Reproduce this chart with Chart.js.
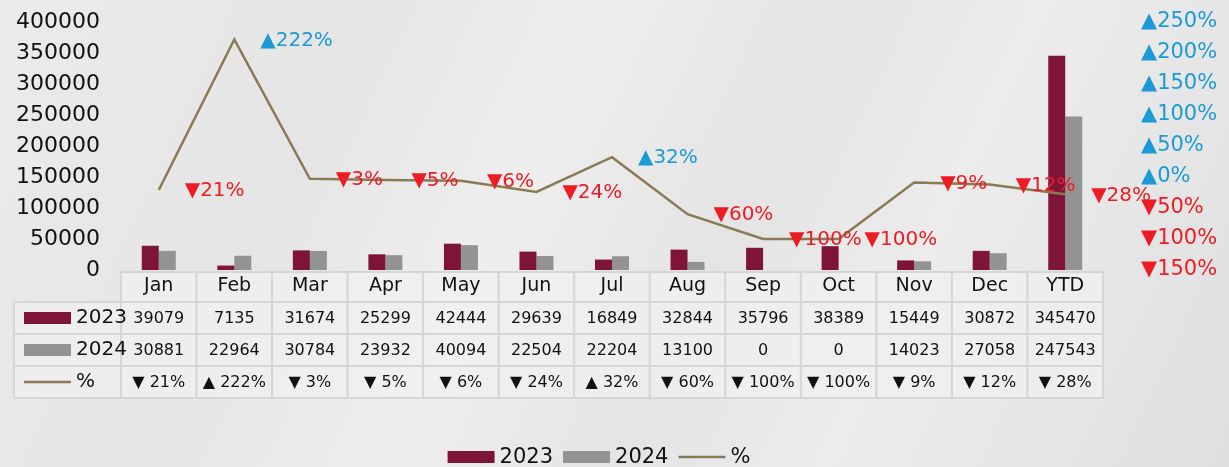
<!DOCTYPE html>
<html>
<head>
<meta charset="utf-8">
<title>Monthly volume 2023 vs 2024</title>
<script src="https://cdn.jsdelivr.net/npm/chart.js@4.4.0/dist/chart.umd.min.js"></script>
<style>
  html, body { margin: 0; padding: 0; }
  body {
    width: 1229px; height: 467px; overflow: hidden;
    background: linear-gradient(115deg, #ebebeb 0%, #e5e5e5 25%, #eeeeee 42%, #e4e4e4 58%, #ececec 72%, #dfdfdf 100%);
  }
  #wrap { position: relative; width: 1229px; height: 467px; }
</style>
</head>
<body>
<div id="wrap"><canvas id="chart"></canvas></div>
<script>
const categories = ['Jan', 'Feb', 'Mar', 'Apr', 'May', 'Jun', 'Jul', 'Aug', 'Sep', 'Oct', 'Nov', 'Dec', 'YTD'];
const sales2023 = [39079, 7135, 31674, 25299, 42444, 29639, 16849, 32844, 35796, 38389, 15449, 30872, 345470];
const sales2024 = [30881, 22964, 30784, 23932, 40094, 22504, 22204, 13100, 0, 0, 14023, 27058, 247543];
const pctChange = [-21, 222, -3, -5, -6, -24, 32, -60, -100, -100, -9, -12, -28];

const MAROON = '#7e1538';
const GREY = '#939393';
const OLIVE = '#8a7a55';
const BLUE = '#1b9ad6';
const RED = '#ec1c24';
const FONT = '"DejaVu Sans", sans-serif';
const CELL_FILL = 'rgba(240,240,240,0.75)';
const CELL_LINE = '#d6d6d6';
const ROW_TOPS = [272, 302, 334, 366, 398];
const TABLE_LEFT = 14;

// ▲ / ▼ prefix instead of a minus sign
function arrowPct(v, gap) {
  return (v >= 0 ? '▲' : '▼') + (gap ? ' ' : '') + Math.abs(v) + '%';
}

const tableRows = [
  { label: '2023', values: sales2023.map(String), swatch: 'rect', color: MAROON },
  { label: '2024', values: sales2024.map(String), swatch: 'rect', color: GREY },
  { label: '%', values: pctChange.map(v => arrowPct(v, true)), swatch: 'line', color: OLIVE }
];

function cell(ctx, x, y, w, h) {
  ctx.fillStyle = CELL_FILL;
  ctx.fillRect(x, y, w, h);
  ctx.strokeRect(x, y, w, h);
}

function swatch(ctx, kind, color, x, y) {
  if (kind === 'rect') {
    ctx.fillStyle = color;
    ctx.fillRect(x, y - 6, 47, 12);
  } else {
    ctx.strokeStyle = color;
    ctx.lineWidth = 2.5;
    ctx.beginPath();
    ctx.moveTo(x, y);
    ctx.lineTo(x + 47, y);
    ctx.stroke();
  }
}

// data table under the axis, value labels next to the line, legend
const extras = {
  id: 'extras',
  beforeDraw(chart) {
    // cell backgrounds go under the category tick labels
    const ctx = chart.ctx;
    const x = chart.scales.x;
    const area = chart.chartArea;
    const colW = (area.right - area.left) / categories.length;
    ctx.save();
    ctx.strokeStyle = CELL_LINE;
    ctx.lineWidth = 2;
    categories.forEach((c, i) => {
      const cx = x.getPixelForValue(i);
      cell(ctx, cx - colW / 2, ROW_TOPS[0], colW, ROW_TOPS[1] - ROW_TOPS[0]);
    });
    tableRows.forEach((row, r) => {
      const top = ROW_TOPS[r + 1];
      const h = ROW_TOPS[r + 2] - top;
      cell(ctx, TABLE_LEFT, top, area.left - TABLE_LEFT, h);
      categories.forEach((c, i) => {
        const cx = x.getPixelForValue(i);
        cell(ctx, cx - colW / 2, top, colW, h);
      });
    });
    ctx.restore();
  },
  afterDatasetsDraw(chart) {
    const ctx = chart.ctx;
    const meta = chart.getDatasetMeta(2);
    ctx.save();
    ctx.font = '20px ' + FONT;
    ctx.textAlign = 'left';
    ctx.textBaseline = 'middle';
    meta.data.forEach((pt, i) => {
      const v = pctChange[i];
      ctx.fillStyle = v >= 0 ? BLUE : RED;
      ctx.fillText(arrowPct(v), pt.x + 26, pt.y + 1);
    });
    ctx.restore();
  },
  afterDraw(chart) {
    const ctx = chart.ctx;
    const x = chart.scales.x;
    ctx.save();
    ctx.textBaseline = 'middle';

    tableRows.forEach((row, r) => {
      const top = ROW_TOPS[r + 1];
      const mid = top + (ROW_TOPS[r + 2] - top) / 2;
      swatch(ctx, row.swatch, row.color, 24, mid);
      ctx.fillStyle = '#111';
      ctx.textAlign = 'left';
      ctx.font = '20px ' + FONT;
      ctx.fillText(row.label, 76, mid);
      ctx.font = '16px ' + FONT;
      ctx.textAlign = 'center';
      row.values.forEach((t, i) => {
        ctx.fillText(t, x.getPixelForValue(i), mid + 1);
      });
    });

    const items = [
      { text: '2023', color: MAROON, kind: 'rect' },
      { text: '2024', color: GREY, kind: 'rect' },
      { text: '%', color: OLIVE, kind: 'line' }
    ];
    ctx.font = '21px ' + FONT;
    const widths = items.map(it => 47 + 5 + ctx.measureText(it.text).width);
    const total = widths.reduce((a, b) => a + b, 0) + 10 * (items.length - 1);
    let lx = 599 - total / 2;
    const ly = 457;
    items.forEach((it, k) => {
      swatch(ctx, it.kind, it.color, lx, ly);
      ctx.fillStyle = '#111';
      ctx.textAlign = 'left';
      ctx.fillText(it.text, lx + 52, ly + 1);
      lx += widths[k] + 10;
    });
    ctx.restore();
  }
};

new Chart(document.getElementById('chart'), {
  type: 'bar',
  data: {
    labels: categories,
    datasets: [
      {
        label: '2023',
        data: sales2023,
        backgroundColor: MAROON,
        yAxisID: 'y',
        order: 2
      },
      {
        label: '2024',
        data: sales2024,
        backgroundColor: GREY,
        yAxisID: 'y',
        order: 2
      },
      {
        type: 'line',
        label: '%',
        data: pctChange,
        borderColor: OLIVE,
        borderWidth: 2.5,
        pointRadius: 0,
        tension: 0,
        yAxisID: 'pct',
        order: 1
      }
    ]
  },
  options: {
    responsive: true,
    maintainAspectRatio: false,
    animation: false,
    categoryPercentage: 0.45,
    barPercentage: 1,
    layout: { padding: { top: 22, left: 0, right: 0, bottom: 0 } },
    plugins: {
      legend: { display: false },
      tooltip: { enabled: false }
    },
    scales: {
      x: {
        grid: { display: false, drawTicks: false },
        border: { display: false },
        ticks: {
          color: '#111',
          font: { family: FONT, size: 19 },
          padding: 5
        },
        afterFit(scale) { scale.height = 197; }
      },
      y: {
        position: 'left',
        min: 0,
        max: 400000,
        // hidden tick marks only push the labels away from the plot
        grid: { display: false, drawTicks: true, tickLength: 16 },
        border: { display: false },
        ticks: {
          stepSize: 50000,
          autoSkip: false,
          color: '#111',
          font: { family: FONT, size: 22 },
          padding: 5,
          callback: v => String(v)
        },
        afterFit(scale) { scale.width = 121; }
      },
      pct: {
        position: 'right',
        min: -150,
        max: 250,
        grid: { display: false, drawTicks: true, tickLength: 33 },
        border: { display: false },
        ticks: {
          stepSize: 50,
          autoSkip: false,
          padding: 5,
          font: { family: FONT, size: 21 },
          color: c => (c.tick && c.tick.value < 0 ? RED : BLUE),
          callback: v => arrowPct(v)
        },
        afterFit(scale) { scale.width = 126; }
      }
    }
  },
  plugins: [extras]
});
</script>
</body>
</html>
